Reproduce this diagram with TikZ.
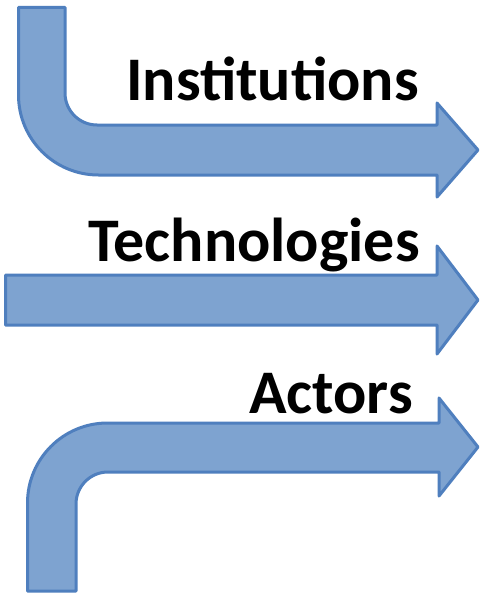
\documentclass[tikz,border=0pt]{standalone}
\usepackage{fontspec}
\setmainfont{Carlito}
\begin{document}
\begin{tikzpicture}[x=1pt,y=-1pt,
  flow/.style={draw=flowline,fill=flowfill,line width=3pt,line join=round},
  lbl/.style={font=\bfseries\fontsize{62}{62}\selectfont,inner sep=0pt,anchor=base east}]
\definecolor{flowline}{HTML}{4F7FBE}
\definecolor{flowfill}{HTML}{7EA3D0}
\useasboundingbox[fill=white] (0,0) rectangle (481,594);

% bent arrow coming down from the top (quarter-circle corners as Bezier curves)
\draw[flow] (18.5,7.5) -- (65,7.5) -- (65,93)
  .. controls (65,110.7) and (79.3,125) .. (97,125)
  -- (437,125) -- (437,103) -- (478,150) -- (437,197) -- (437,175) -- (98.5,175)
  .. controls (54.3,175) and (18.5,139.2) .. (18.5,95) -- cycle;

% straight arrow
\draw[flow] (5.5,275) -- (437,275) -- (437,246) -- (478,300) -- (437,354) -- (437,325) -- (5.5,325) -- cycle;

% bent arrow going down to the bottom
\draw[flow] (27.5,591) -- (27.5,503)
  .. controls (27.5,458.8) and (63.3,423) .. (107.5,423)
  -- (439,423) -- (439,398) -- (478,447) -- (439,496) -- (439,472) -- (108,472)
  .. controls (90.3,472) and (76,486.3) .. (76,504) -- (76,591) -- cycle;

\node[lbl] (inst) at (419,100) {Institutions};
\node[lbl] (tech) at (420,261) {Technologies};
\node[lbl] (act) at (413,413) {Actors};
\end{tikzpicture}
\end{document}
